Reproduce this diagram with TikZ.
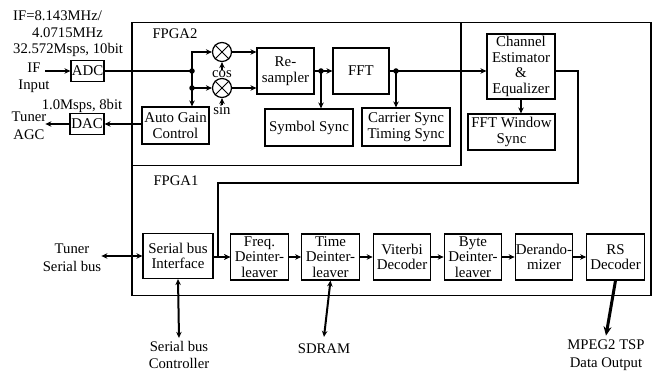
\documentclass[tikz,border=0pt]{standalone}
\usepackage{fontspec}
\setmainfont{Liberation Serif}
\usetikzlibrary{arrows.meta, positioning, calc}

\begin{document}
\begin{tikzpicture}[
    x=1pt, y=-1pt,
    % Functional block style
    blk/.style={
        rectangle,
        draw=black,
        line width=1.2pt,
        inner sep=0pt,
        align=center,
        font=\fontsize{14.9}{15.5}\selectfont
    },
    % Receiver chain block style
    pipebox/.style={
        blk,
        minimum width=57.5pt,
        minimum height=46pt
    },
    % FPGA frame style
    fpgabox/.style={
        rectangle,
        draw=black,
        line width=1.5pt,
        inner sep=0pt
    },
    % Mixer style
    mixer/.style={
        circle,
        draw=black,
        line width=1.2pt,
        minimum size=19pt,
        inner sep=0pt
    },
    % Free text style
    lbl/.style={
        align=center,
        inner sep=0pt,
        font=\fontsize{14.7}{17.5}\selectfont
    },
    % Oscillator label style
    osc/.style={
        inner sep=0pt,
        font=\fontsize{14.7}{17.5}\selectfont
    },
    % Connector styles
    wire/.style={line width=2pt},
    arrow/.style={
        -{Stealth[length=6pt, width=5.5pt]},
        line width=2pt
    },
    darrow/.style={
        {Stealth[length=6pt, width=5.5pt]}-{Stealth[length=6pt, width=5.5pt]},
        line width=2pt
    },
    dot/.style={circle, fill=black, inner sep=0pt, minimum size=5.5pt}
]
\useasboundingbox (0,0) rectangle (654,371);

% === FPGA frames ===
\node[fpgabox, minimum width=519pt, minimum height=273pt, anchor=north west] (fpga1) at (131,22) {};
\node[fpgabox, minimum width=329pt, minimum height=143pt, anchor=north west] (fpga2) at (131,22) {};
\node[lbl] (fpga2lbl) at (175,34) {FPGA2};
\node[lbl] (fpga1lbl) at (176,181) {FPGA1};

% === Front end ===
\node[lbl, anchor=west] (if1) at (13,16) {IF=8.143MHz/};
\node[lbl, anchor=west] (if2) at (32,33) {4.0715MHz};
\node[lbl, anchor=west] (if3) at (13,50) {32.572Msps, 10bit};
\node[lbl] (ifin) at (34,78) {IF\\Input};
\node[blk, minimum width=33pt, minimum height=21pt] (adc) at (87.5,71) {ADC};
\node[lbl] (dacrate) at (82,106) {1.0Msps, 8bit};
\node[blk, minimum width=34pt, minimum height=21pt] (dac) at (87,124) {DAC};
\node[lbl] (tagc) at (29,126) {Tuner\\AGC};
\node[blk, minimum width=67pt, minimum height=37pt] (agc) at (175.5,125.5) {Auto Gain\\Control};

% === FPGA2 blocks ===
\node[mixer] (mx1) at (222,52) {};
\node[mixer] (mx2) at (222,88) {};
\draw[line width=1pt] (mx1.45) -- (mx1.225) (mx1.135) -- (mx1.315);
\draw[line width=1pt] (mx2.45) -- (mx2.225) (mx2.135) -- (mx2.315);
\node[osc, anchor=north] (cos) at (222,70) {cos};
\node[osc, anchor=north] (sin) at (222,105) {sin};
\node[blk, minimum width=57pt, minimum height=46pt] (resamp) at (285.5,71) {Re-\\sampler};
\node[blk, minimum width=56pt, minimum height=46pt] (fft) at (361,71) {FFT};
\node[blk, minimum width=88pt, minimum height=37pt] (symsync) at (309,127.5) {Symbol Sync};
\node[blk, minimum width=88pt, minimum height=38pt] (carsync) at (406,127) {Carrier Sync\\Timing Sync};
\node[blk, minimum width=68pt, minimum height=65pt] (chest) at (521,66.5) {Channel\\Estimator\\\&\\Equalizer};
\node[blk, minimum width=87pt, minimum height=36pt] (fftwin) at (511.5,132) {FFT Window\\Sync};

% === FPGA1 chain ===
\node[blk, minimum width=70pt, minimum height=45pt] (serial) at (178,256) {Serial bus\\Interface};
\node[pipebox] (freq) at (259.5,257) {Freq.\\Deinter-\\leaver};
\node[pipebox] (time) at (330.5,257) {Time\\Deinter-\\leaver};
\node[pipebox] (viterbi) at (402,257) {Viterbi\\Decoder};
\node[pipebox] (byte) at (473,257) {Byte\\Deinter-\\leaver};
\node[pipebox] (derand) at (544,257) {Derando-\\mizer};
\node[pipebox] (rs) at (615.5,257) {RS\\Decoder};

% === External labels ===
\node[lbl] (tsb) at (72,258) {Tuner\\Serial bus};
\node[lbl] (sbc) at (179,355) {Serial bus\\Controller};
\node[lbl] (sdram) at (324,349) {SDRAM};
\node[lbl] (mpeg) at (606,355) {MPEG2 TSP\\Data Output};

% === Coordinates ===
\coordinate (ifsrc) at (45,71);
\coordinate (j1) at (192,71);
\coordinate (j2) at (192,88);
\coordinate (j3) at (321,71);
\coordinate (j4) at (396,71);
\coordinate (fb1) at (578,183);
\coordinate (fb2) at (218,183);

% === Front end connectors ===
\draw[arrow] (ifsrc) -- (adc.west);
\draw[wire] (adc.east) -- (j1);
\draw[arrow] (j1) |- (mx1.west);
\draw[arrow] (j2) -- (mx2.west);
\draw[arrow] (j1) -- (j1 |- agc.north);
\draw[arrow] (agc.west |- dac) -- (dac.east);
\draw[arrow] (dac.west) -- ++(-24,0);
\node[dot] at (j1) {};
\node[dot] at (j2) {};

% === FPGA2 connectors ===
\draw[arrow, line width=1.5pt] (cos.north) -- (mx1.south);
\draw[arrow, line width=1.5pt] (sin.north) -- (mx2.south);
\draw[arrow] (mx1.east) -- (mx1.east -| resamp.west);
\draw[arrow] (mx2.east) -- (mx2.east -| resamp.west);
\draw[arrow] (resamp.east) -- (fft.west);
\draw[arrow] (j3) -- (j3 |- symsync.north);
\draw[arrow] (fft.east) -- (fft.east -| chest.west);
\draw[arrow] (j4) -- (j4 |- carsync.north);
\draw[arrow] (chest.south) -- (chest.south |- fftwin.north);
\node[dot] at (j3) {};
\node[dot] at (j4) {};

% === Feedback into FPGA1 ===
\draw[arrow] (fft.east -| chest.east) -- (fft.east -| fb1) -- (fb1) -- (fb2) -- (fb2 |- freq.west) -- (freq.west);

% === FPGA1 connectors ===
\draw[arrow] (serial.east |- freq.west) -- (freq.west);
\draw[arrow] (freq) -- (time);
\draw[arrow] (time) -- (viterbi);
\draw[arrow] (viterbi) -- (byte);
\draw[arrow] (byte) -- (derand);
\draw[arrow] (derand) -- (rs);

% === External connectors ===
\draw[darrow] (tsb.east |- serial.west) -- (serial.west);
\draw[darrow] (serial.south) -- ($(sbc.north)+(0,-3)$);
\draw[darrow] (time.south) -- ($(sdram.north)+(0,-7)$);
\draw[-{Stealth[length=9pt, width=8pt]}, line width=3pt] (rs.south) -- ($(mpeg.north)+(0,-4)$);

\end{tikzpicture}
\end{document}
